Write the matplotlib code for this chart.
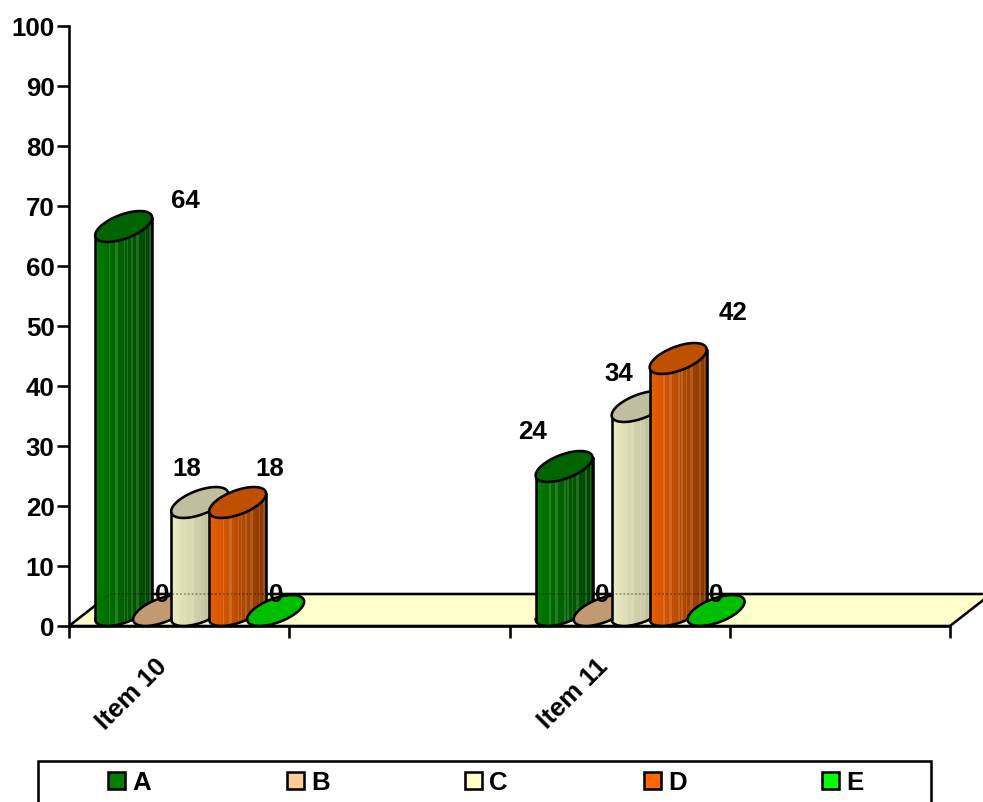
import numpy as np
import matplotlib
matplotlib.use('Agg')
import matplotlib.pyplot as plt
from matplotlib.patches import Patch, Rectangle

plt.rcParams['font.family'] = ['Liberation Sans', 'DejaVu Sans']
plt.rcParams['font.weight'] = 'bold'
plt.rcParams['font.size'] = 18.6

# dati
items = ['Item 10', 'Item 11']
serie = ['A', 'B', 'C', 'D', 'E']
item_10 = [64, 0, 18, 18, 0]
item_11 = [24, 0, 34, 42, 0]
valori = [item_10, item_11]
y_ticks = [0, 10, 20, 30, 40, 50, 60, 70, 80, 90, 100]

# colori
col_legenda = ['#008000', '#FFCC99', '#FFFFCC', '#FF6600', '#00FF00']
col_top = ['#006400', '#C29A72', '#BFBFA0', '#BF5000', '#00BF00']
col_chiaro = [(0.0, 0.48, 0.0), (0.85, 0.7, 0.55), (0.93, 0.93, 0.76), (0.92, 0.37, 0.0), (0.0, 0.8, 0.0)]
col_scuro = [(0.0, 0.27, 0.0), (0.6, 0.48, 0.36), (0.66, 0.66, 0.53), (0.53, 0.22, 0.0), (0.0, 0.5, 0.0)]

# scala: pixel per unita' sugli assi
W, H = 983, 803
PX_X = 220.25
PX_Y = 6.0
LEFT, BOTTOM = 69, 627

# cilindro e posizione delle barre
HALF_W = 28.5
HALF_H = 15.5
A_ELL = 30.1
B_ELL = 12.0
THETA = np.radians(20.7)
PASSO = 38 / PX_X
OFFSET_GRUPPO = -2.21
LW = 1.85

# spostamento delle etichette rispetto alla barra (pixel)
label_dx = [[90, 29, 16, 61, 29], [-3, 29, 7, 83, 29]]
label_dy = [[42, 32, 50, 50, 32], [51, 32, 49, 62, 32]]

# righe chiare sul fianco del cilindro
righe = [9, 13, 14, 19, 21, 24, 27, 28, 33, 36]


def ellisse(t):
    u = A_ELL * np.cos(t) * np.cos(THETA) - B_ELL * np.sin(t) * np.sin(THETA)
    v = A_ELL * np.cos(t) * np.sin(THETA) + B_ELL * np.sin(t) * np.cos(THETA)
    return u + HALF_W, v + HALF_H


t0 = np.arctan(-B_ELL * np.sin(THETA) / (A_ELL * np.cos(THETA)))
t_sotto = np.linspace(t0 + np.pi, t0 + 2 * np.pi, 80)
t_sopra = np.linspace(t0, t0 + np.pi, 80)
u_sotto, v_sotto = ellisse(t_sotto)
u_sopra, v_sopra = ellisse(t_sopra)


def disegna_cilindro(ax, x, val, i, z):
    if val > 0:
        n = 38
        xs = np.linspace(u_sotto[0], u_sotto[-1], n + 1)
        arco = np.interp(xs, u_sotto, v_sotto) / PX_Y
        X = np.vstack([x + xs / PX_X, x + xs / PX_X])
        Y = np.vstack([arco, arco + val])
        colori = np.zeros((1, n, 3))
        for k in range(n):
            f = k / (n - 1)
            c = np.array(col_chiaro[i]) * (1 - f) + np.array(col_scuro[i]) * f
            if k in righe:
                c = c + (1 - c) * 0.14
            colori[0, k] = c
        ax.pcolormesh(X, Y, colori, zorder=z, clip_on=False)
        # contorno del corpo
        ax.plot(x + u_sotto / PX_X, v_sotto / PX_Y, color='black', lw=LW, zorder=z + 0.1, clip_on=False)
        ax.plot([x + u_sotto[0] / PX_X] * 2, [v_sotto[0] / PX_Y, v_sotto[0] / PX_Y + val],
                color='black', lw=LW, zorder=z + 0.1, clip_on=False)
        ax.plot([x + u_sotto[-1] / PX_X] * 2, [v_sotto[-1] / PX_Y, v_sotto[-1] / PX_Y + val],
                color='black', lw=LW, zorder=z + 0.1, clip_on=False)
    # faccia superiore
    ax.fill(x + np.r_[u_sotto, u_sopra] / PX_X, val + np.r_[v_sotto, v_sopra] / PX_Y,
            facecolor=col_top[i], edgecolor='black', lw=LW, zorder=z + 0.2, clip_on=False)


fig = plt.figure(figsize=(W / 100, H / 100), dpi=100)
ax = fig.add_axes([LEFT / W, 1 - BOTTOM / H, 4 * PX_X / W, 100 * PX_Y / H])
ax.set_xlim(0, 4)
ax.set_ylim(0, 100)

# pavimento
prof_x = 41 / PX_X
prof_y = 32 / PX_Y
floor_x = [0, 4, 4 + prof_x, prof_x]
floor_y = [0, 0, prof_y, prof_y]
ax.fill(floor_x, floor_y, facecolor='#FFFFCC', edgecolor='black', lw=LW, zorder=1, clip_on=False)

# barre
for g in range(len(items)):
    centro = 2 * g + 0.5
    for i in range(len(serie)):
        x = centro + (i + OFFSET_GRUPPO) * PASSO
        disegna_cilindro(ax, x, valori[g][i], i, 3 + i)

# il bordo del pavimento si intravede attraverso le barre
ax.plot([prof_x, 2.9], [prof_y, prof_y], color='black', lw=1.4, ls=(0, (1, 1)), alpha=0.3, zorder=9)
ax.plot([0, prof_x], [0, prof_y], color='black', lw=1.2, ls=(0, (1, 1)), alpha=0.2, zorder=9)

# etichette dei valori
for g in range(len(items)):
    centro = 2 * g + 0.5
    for i in range(len(serie)):
        x = centro + (i + OFFSET_GRUPPO) * PASSO
        ax.annotate(str(valori[g][i]), xy=(x, valori[g][i]), xytext=(label_dx[g][i], label_dy[g][i]),
                    textcoords='offset pixels', ha='center', va='center', zorder=10, annotation_clip=False)
    # nome del gruppo
    ax.annotate(items[g], xy=(centro, 0), xytext=(-24, -27), textcoords='offset pixels', rotation=45,
                ha='right', va='top', rotation_mode='anchor', annotation_clip=False)

# assi
for s in ['top', 'right']:
    ax.spines[s].set_visible(False)
ax.spines['left'].set_linewidth(LW)
ax.spines['bottom'].set_linewidth(LW)
ax.spines['bottom'].set_zorder(8)
ax.set_yticks(y_ticks)
ax.tick_params(axis='y', length=8.6, width=LW, pad=1.8)
ax.set_xticks([0, 1, 2, 3, 4])
ax.set_xticklabels([])
ax.tick_params(axis='x', which='major', length=8.6, width=LW)

# legenda: il riquadro prosegue oltre il bordo inferiore
fig.add_artist(Rectangle((38 / W, -0.02), (931 - 38) / W, 1 - 762 / H + 0.02, transform=fig.transFigure,
                         fill=False, edgecolor='black', lw=LW))
handles = [Patch(facecolor=col_legenda[i], edgecolor='black', lw=LW, label=serie[i]) for i in range(len(serie))]
fig.legend(handles=handles, ncol=5, frameon=False, loc='center left', bbox_to_anchor=(108 / W, 1 - 783.5 / H),
           borderpad=0, borderaxespad=0, handlelength=0.66, handleheight=0.66, handletextpad=0.28,
           columnspacing=5.25)

fig.savefig('out.png', dpi=100)
